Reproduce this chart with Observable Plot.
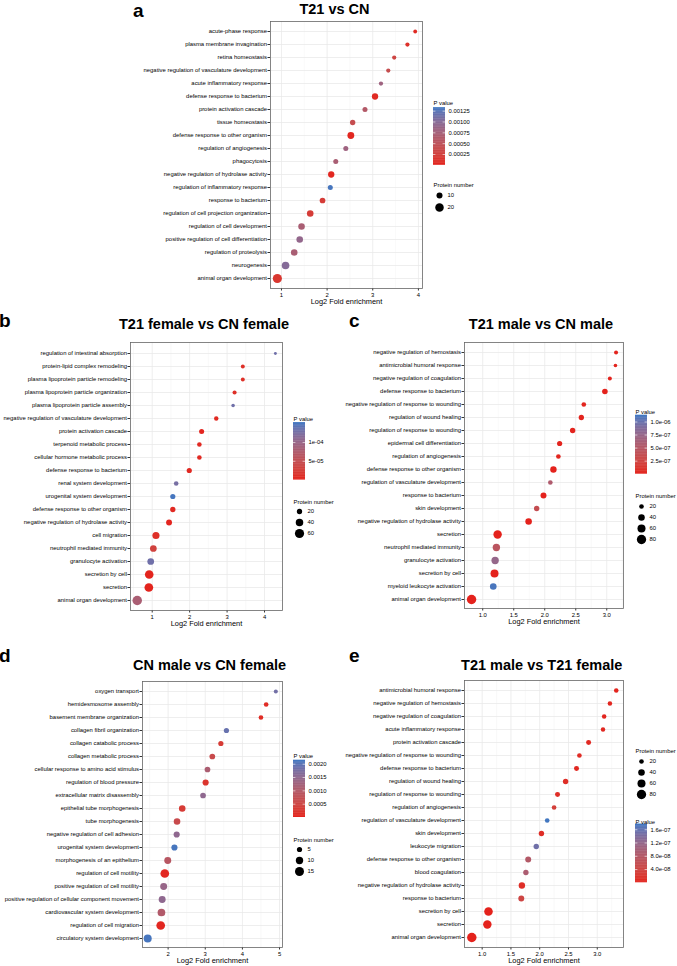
<!DOCTYPE html>
<html><head><meta charset="utf-8">
<script src="https://cdn.jsdelivr.net/npm/d3@7"></script>
<script src="https://cdn.jsdelivr.net/npm/@observablehq/plot@0.6"></script>
<style>
body{margin:0;background:#fff;font-family:"Liberation Sans",Arial,Helvetica,sans-serif;}
#root{position:relative;width:677px;height:966px;overflow:hidden;background:#fff;}
.letter{position:absolute;font-weight:bold;font-size:19px;line-height:0.8;color:#000;}
.title{position:absolute;font-weight:bold;font-size:14.5px;line-height:0.8;color:#000;white-space:nowrap;transform:translateX(-50%);}
</style></head>
<body><div id="root"></div>
<script>
// ---------- Panel a: T21 vs CN ----------
const aTerms = ["acute-phase response","plasma membrane invagination","retina homeostasis","negative regulation of vasculature development","acute inflammatory response","defense response to bacterium","protein activation cascade","tissue homeostasis","defense response to other organism","regulation of angiogenesis","phagocytosis","negative regulation of hydrolase activity","regulation of inflammatory response","response to bacterium","regulation of cell projection organization","regulation of cell development","positive regulation of cell differentiation","regulation of proteolysis","neurogenesis","animal organ development"];
const aFold = [3.93,3.76,3.47,3.34,3.18,3.05,2.83,2.56,2.52,2.41,2.19,2.09,2.07,1.90,1.63,1.44,1.40,1.28,1.09,0.91];
const aPval = [0.00005,0.0001,0.0003,0.0004,0.0008,0.00005,0.0006,0.0004,0.00003,0.0008,0.0007,0.00003,0.0013,0.0002,0.0002,0.0007,0.0009,0.0007,0.001,0.00015];
const aCount = [4,5,5,5,5,11,7,8,13,7,7,11,7,9,12,12,12,12,16,23];
const aXTicks = [1,2,3,4];
const aPTicks = [0.00025,0.0005,0.00075,0.001,0.00125];
const aSizeTicks = [10,20];

// ---------- Panel b: T21 female vs CN female ----------
const bTerms = ["regulation of intestinal absorption","protein-lipid complex remodeling","plasma lipoprotein particle remodeling","plasma lipoprotein particle organization","plasma lipoprotein particle assembly","negative regulation of vasculature development","protein activation cascade","terpenoid metabolic process","cellular hormone metabolic process","defense response to bacterium","renal system development","urogenital system development","defense response to other organism","negative regulation of hydrolase activity","cell migration","neutrophil mediated immunity","granulocyte activation","secretion by cell","secretion","animal organ development"];
const bFold = [4.29,3.42,3.42,3.20,3.16,2.71,2.32,2.26,2.26,1.99,1.64,1.55,1.55,1.45,1.10,1.03,0.96,0.92,0.91,0.60];
const bPval = [1.3e-4,1e-5,1e-5,1e-5,1.3e-4,5e-6,2e-6,5e-6,5e-6,5e-6,1.25e-4,1.5e-4,5e-6,2e-6,1e-5,3e-5,1.3e-4,1e-6,1e-6,8e-5];
const bCount = [6,11,11,12,9,14,18,15,15,19,15,19,20,25,36,32,32,52,54,64];
const bXTicks = [1,2,3,4];
const bPTicks = [5e-5,1e-4];
const bSizeTicks = [20,40,60];

// ---------- Panel c: T21 male vs CN male ----------
const cTerms = ["negative regulation of hemostasis","antimicrobial humoral response","negative regulation of coagulation","defense response to bacterium","negative regulation of response to wounding","regulation of wound healing","regulation of response to wounding","epidermal cell differentiation","regulation of angiogenesis","defense response to other organism","regulation of vasculature development","response to bacterium","skin development","negative regulation of hydrolase activity","secretion","neutrophil mediated immunity","granulocyte activation","secretion by cell","myeloid leukocyte activation","animal organ development"];
const cFold = [3.15,3.14,3.05,2.97,2.63,2.59,2.45,2.24,2.22,2.14,2.09,1.98,1.87,1.74,1.24,1.22,1.20,1.19,1.17,0.82];
const cPval = [1e-8,1e-8,1e-8,1e-9,2e-8,1e-8,1e-8,1e-8,2e-8,1e-9,5.5e-7,1e-9,3.5e-7,1e-9,1e-10,4.5e-7,7.5e-7,1e-9,1.1e-6,1e-10];
const cCount = [15,12,15,29,20,26,27,25,20,38,20,33,27,40,66,50,50,59,41,82];
const cXTicks = [1.0,1.5,2.0,2.5,3.0];
const cPTicks = [2.5e-7,5e-7,7.5e-7,1e-6];
const cSizeTicks = [20,40,60,80];

// ---------- Panel d: CN male vs CN female ----------
const dTerms = ["oxygen transport","hemidesmosome assembly","basement membrane organization","collagen fibril organization","collagen catabolic process","collagen metabolic process","cellular response to amino acid stimulus","regulation of blood pressure","extracellular matrix disassembly","epithelial tube morphogenesis","tube morphogenesis","negative regulation of cell adhesion","urogenital system development","morphogenesis of an epithelium","regulation of cell motility","positive regulation of cell motility","positive regulation of cellular component movement","cardiovascular system development","regulation of cell migration","circulatory system development"];
const dFold = [4.90,4.64,4.50,3.57,3.42,3.19,3.06,3.01,2.94,2.38,2.24,2.23,2.17,1.99,1.91,1.88,1.84,1.82,1.80,1.45];
const dPval = [0.0018,0.0001,0.0001,0.0019,0.0003,0.0006,0.0011,0.0002,0.0015,0.0003,0.0006,0.0015,0.0021,0.0009,0.00005,0.0014,0.0015,0.001,0.00005,0.0021];
const dCount = [3,4,4,5,5,6,6,7,6,8,8,7,7,9,14,9,9,11,14,12];
const dXTicks = [2,3,4,5];
const dPTicks = [0.0005,0.001,0.0015,0.002];
const dSizeTicks = [5,10,15];

// ---------- Panel e: T21 male vs T21 female ----------
const eTerms = ["antimicrobial humoral response","negative regulation of hemostasis","negative regulation of coagulation","acute inflammatory response","protein activation cascade","negative regulation of response to wounding","defense response to bacterium","regulation of wound healing","regulation of response to wounding","regulation of angiogenesis","regulation of vasculature development","skin development","leukocyte migration","defense response to other organism","blood coagulation","negative regulation of hydrolase activity","response to bacterium","secretion by cell","secretion","animal organ development"];
const eFold = [3.33,3.22,3.12,3.10,2.85,2.69,2.64,2.45,2.31,2.25,2.13,2.03,1.94,1.80,1.76,1.69,1.68,1.11,1.09,0.82];
const ePval = [2e-9,3e-9,3e-9,5e-9,5e-9,8e-9,5e-9,1e-8,1e-8,3e-8,1.75e-7,1e-8,1.5e-7,8e-8,9e-8,1e-8,4e-8,1e-10,1e-10,1e-10];
const eCount = [19,19,19,18,23,20,23,27,23,20,20,27,27,33,27,38,33,68,66,82];
const eXTicks = [1.0,1.5,2.0,2.5,3.0];
const ePTicks = [4e-8,8e-8,1.2e-7,1.6e-7];
const eSizeTicks = [20,40,60,80];

// ---------- rendering ----------
const FONT = '"Liberation Sans", Arial, Helvetica, sans-serif';
const RED = "#e4221c", BLUE = "#3c77c2";
const root = document.getElementById("root");
const baseStyle = {fontFamily: FONT, fontSize: "5.9px", color: "#333", background: "transparent", overflow: "visible"};

function place(el, left, top) {
  el.style.position = "absolute";
  el.style.left = left + "px";
  el.style.top = top + "px";
  root.appendChild(el);
}
function colorScale(pmax) {
  return {type: "linear", domain: [0, pmax], range: [RED, BLUE], interpolate: "lab"};
}
function sci(digits) {
  return p => {
    const s = p.toExponential(digits);
    return s.replace(/e([+-])(\d)$/, "e$10$2");
  };
}
function text(cls, str, left, top) {
  const d = document.createElement("div");
  d.className = cls; d.textContent = str;
  d.style.left = left + "px"; d.style.top = top + "px";
  root.appendChild(d);
}

function panel(c) {
  const data = c.terms.map((t, i) => ({term: t, fold: c.fold[i], p: c.pval[i], n: c.count[i]}));
  const mt = 4, mb = 22, mr = 4;
  const ml = c.frameL - c.left;
  const width = c.frameR - c.left + mr;
  const height = c.frameB - c.frameT + mt + mb;
  const svg = Plot.plot({
    width, height, marginLeft: ml, marginRight: mr, marginTop: mt, marginBottom: mb,
    style: baseStyle,
    x: {domain: c.xDomain},
    y: {type: "point", domain: c.terms, padding: 0.6},
    r: {type: "sqrt", domain: [0, c.rRef[0]], range: [0, c.rRef[1]]},
    color: colorScale(c.pmax),
    marks: [
      Plot.gridX(c.minor, {stroke: "#efefef", strokeOpacity: 1, strokeWidth: 0.4}),
      Plot.gridX(c.ticks, {stroke: "#e8e8e8", strokeOpacity: 1, strokeWidth: 0.75}),
      Plot.gridY(c.terms, {stroke: "#e8e8e8", strokeOpacity: 1, strokeWidth: 0.75}),
      Plot.axisY({tickSize: 2.5, tickPadding: 1, label: null, fill: "black", stroke: "#333"}),
      Plot.axisX(c.ticks, {tickSize: 2.5, tickPadding: 1.5, label: null, tickFormat: c.tickFmt, fill: "black", stroke: "#333"}),
      Plot.frame({stroke: "#666", strokeWidth: 0.8}),
      Plot.dot(data, {x: "fold", y: "term", r: "n", fill: "p"}),
      Plot.text(["Log2 Fold enrichment"], {frameAnchor: "bottom", dy: 15, fontSize: 7.4, fill: "black"})
    ]
  });
  place(svg, c.left, c.frameT - mt);
}

function colorLegend(c) {
  const top = c.titleY - 5;
  const mt = c.barTop - top;
  const barH = c.barBottom - c.barTop;
  const N = 80;
  const slices = d3.range(N).map(i => ({a: c.pmax * i / N, b: c.pmax * Math.min(N, i + 1.6) / N, m: c.pmax * (i + 0.5) / N}));
  const svg = Plot.plot({
    width: 50, height: mt + barH + 4, marginLeft: 0, marginRight: 38, marginTop: mt, marginBottom: 4,
    style: baseStyle,
    x: {domain: [0, 1], axis: null},
    y: {domain: [0, c.pmax], axis: null},
    color: colorScale(c.pmax),
    marks: [
      Plot.rect(slices, {x1: 0, x2: 1, y1: "a", y2: "b", fill: "m"}),
      Plot.ruleY(c.ticks, {x1: 0, x2: 0.2, stroke: "white", strokeWidth: 0.6}),
      Plot.ruleY(c.ticks, {x1: 0.8, x2: 1, stroke: "white", strokeWidth: 0.6}),
      Plot.text(c.ticks, {y: d => d, frameAnchor: "right", dx: 3, text: c.fmt, textAnchor: "start", fill: "black"}),
      Plot.text(["P value"], {frameAnchor: "top-left", dy: c.titleY - c.barTop, textAnchor: "start", fill: "black"})
    ]
  });
  place(svg, c.left, top);
}

function sizeLegend(c) {
  const top = c.titleY - 5;
  const mt = c.firstY - c.step / 2 - top;
  const svg = Plot.plot({
    width: 50, height: mt + c.step * c.values.length + 2, marginLeft: 0, marginRight: 0, marginTop: mt, marginBottom: 2,
    style: baseStyle,
    x: {domain: [0, 1], axis: null},
    y: {type: "point", domain: c.values, padding: 0.5, axis: null},
    r: {type: "sqrt", domain: [0, c.rRef[0]], range: [0, c.rRef[1]]},
    marks: [
      Plot.dot(c.values, {y: d => d, r: d => d, frameAnchor: "left", dx: 6, fill: "black"}),
      Plot.text(c.values, {y: d => d, frameAnchor: "left", dx: 14, text: d => String(d), textAnchor: "start", fill: "black"}),
      Plot.text(["Protein number"], {frameAnchor: "top-left", dy: c.titleY - c.firstY + c.step / 2, textAnchor: "start", fill: "black"})
    ]
  });
  place(svg, c.left, top);
}

// Panel a
panel({terms: aTerms, fold: aFold, pval: aPval, count: aCount, ticks: aXTicks, minor: [1.5, 2.5, 3.5],
  xDomain: [0.76, 4.09], tickFmt: d3.format("d"), pmax: 0.00133, rRef: [20, 4.25],
  left: 100, frameL: 270, frameR: 422, frameT: 21, frameB: 288});
colorLegend({left: 433, titleY: 99.5, barTop: 106.7, barBottom: 164.3, pmax: 0.00133, ticks: aPTicks, fmt: d3.format(".5f")});
sizeLegend({left: 433, titleY: 182.3, firstY: 195, step: 12, values: aSizeTicks, rRef: [20, 4.25]});

// Panel b
panel({terms: bTerms, fold: bFold, pval: bPval, count: bCount, ticks: bXTicks, minor: [0.5, 1.5, 2.5, 3.5],
  xDomain: [0.42, 4.48], tickFmt: d3.format("d"), pmax: 1.53e-4, rRef: [60, 4.6],
  left: 0, frameL: 130, frameR: 282, frameT: 342, frameB: 610});
colorLegend({left: 293, titleY: 415.7, barTop: 421.7, barBottom: 479.3, pmax: 1.53e-4, ticks: bPTicks, fmt: sci(0)});
sizeLegend({left: 293, titleY: 498.7, firstY: 510.3, step: 11.7, values: bSizeTicks, rRef: [60, 4.6]});

// Panel c
panel({terms: cTerms, fold: cFold, pval: cPval, count: cCount, ticks: cXTicks, minor: [0.75, 1.25, 1.75, 2.25, 2.75, 3.25],
  xDomain: [0.706, 3.27], tickFmt: d3.format(".1f"), pmax: 1.13e-6, rRef: [80, 4.65],
  left: 340, frameL: 464, frameR: 623, frameT: 342, frameB: 608});
colorLegend({left: 635, titleY: 409.3, barTop: 415, barBottom: 474, pmax: 1.13e-6, ticks: cPTicks, fmt: sci(1)});
sizeLegend({left: 635, titleY: 492.7, firstY: 504.3, step: 11.7, values: cSizeTicks, rRef: [80, 4.65]});

// Panel d
panel({terms: dTerms, fold: dFold, pval: dPval, count: dCount, ticks: dXTicks, minor: [1.5, 2.5, 3.5, 4.5],
  xDomain: [1.31, 5.08], tickFmt: d3.format("d"), pmax: 0.00215, rRef: [15, 4.5],
  left: 0, frameL: 142, frameR: 282, frameT: 681, frameB: 947});
colorLegend({left: 293, titleY: 753.3, barTop: 760, barBottom: 817.3, pmax: 0.00215, ticks: dPTicks, fmt: d3.format(".4f")});
sizeLegend({left: 293, titleY: 836.7, firstY: 848.3, step: 11.7, values: dSizeTicks, rRef: [15, 4.5]});

// Panel e
panel({terms: eTerms, fold: eFold, pval: ePval, count: eCount, ticks: eXTicks, minor: [0.75, 1.25, 1.75, 2.25, 2.75, 3.25],
  xDomain: [0.693, 3.456], tickFmt: d3.format(".1f"), pmax: 1.77e-7, rRef: [80, 4.65],
  left: 340, frameL: 464, frameR: 623, frameT: 680, frameB: 947});
sizeLegend({left: 635, titleY: 747.7, firstY: 759.3, step: 11.8, values: eSizeTicks, rRef: [80, 4.65]});
colorLegend({left: 635, titleY: 818.7, barTop: 823.3, barBottom: 882, pmax: 1.77e-7, ticks: ePTicks, fmt: sci(1)});

// Titles and panel letters
text("letter", "a", 133, 3);
text("letter", "b", -1, 312.8);
text("letter", "c", 349, 312.8);
text("letter", "d", -1, 647.8);
text("letter", "e", 349, 647.8);
text("title", "T21 vs CN", 334.5, 3.5);
text("title", "T21 female vs CN female", 204, 319.2);
text("title", "T21 male vs CN male", 541, 319.2);
text("title", "CN male vs CN female", 209.5, 660.2);
text("title", "T21 male vs T21 female", 541.7, 660.2);
</script>
</body></html>
